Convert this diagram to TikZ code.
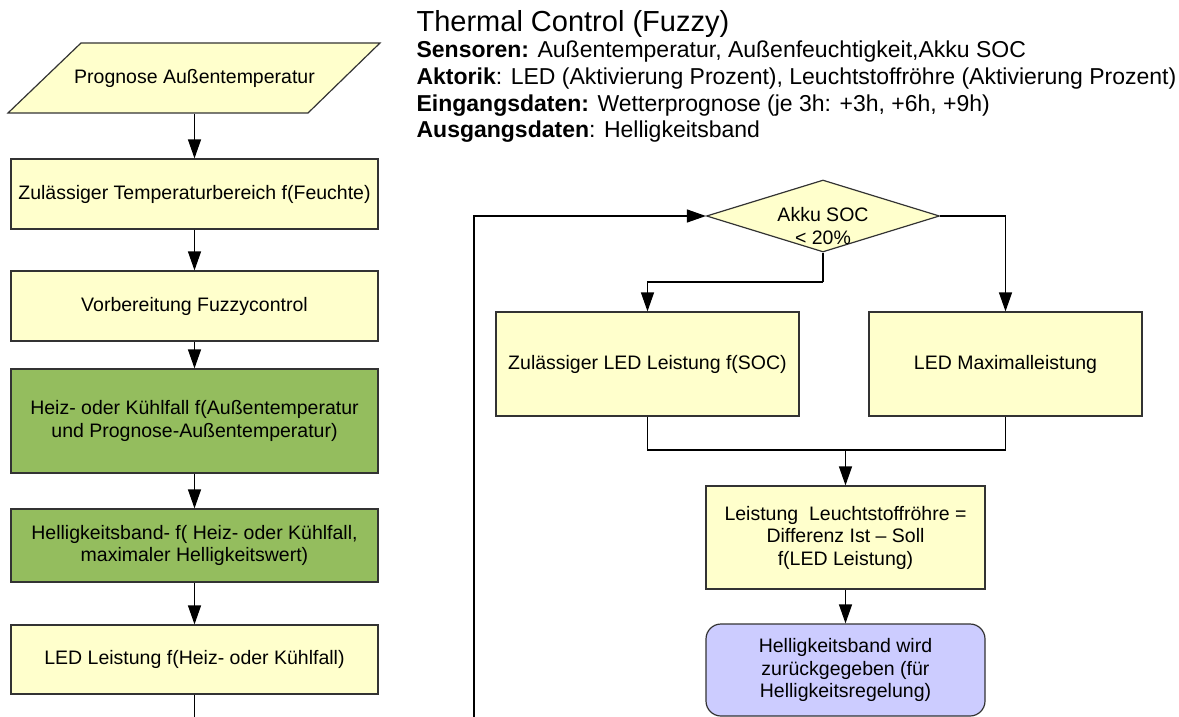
\documentclass[tikz,border=0pt]{standalone}
\usepackage{fontspec}
\setmainfont{Liberation Sans}
\usetikzlibrary{arrows.meta,shapes.geometric}

\definecolor{boxyellow}{HTML}{FFFFCC}
\definecolor{boxgreen}{HTML}{94BD5E}
\definecolor{boxblue}{HTML}{CCCCFF}
\definecolor{edgegray}{HTML}{333333}

\newcommand{\boxfont}{\fontsize{19.5}{22.5}\selectfont}
\newcommand{\hdrfont}{\fontsize{23}{26.5}\selectfont}
\newcommand{\titlefont}{\fontsize{29}{33}\selectfont}

\begin{document}
\begin{tikzpicture}[x=1pt, y=-1pt,
  line width=1.2pt,
  flow/.style={draw=black, -{Triangle[length=19pt,width=13pt]}},
  plain/.style={draw=black},
  procbox/.style={rectangle, draw=edgegray, fill=boxyellow, inner sep=0pt,
    align=center, font=\boxfont},
  greenbox/.style={procbox, fill=boxgreen},
  endbox/.style={procbox, fill=boxblue, rounded corners=15pt},
  decision/.style={diamond, draw=edgegray, fill=boxyellow, inner sep=0pt},
  hdr/.style={anchor=base west, inner sep=0pt, font=\hdrfont}
]
\useasboundingbox (0,0) rectangle (1179,717);
\fill[white] (0,0) rectangle (1179,717);

% ---------- header ----------
\node[anchor=base west, inner sep=0pt, font=\titlefont] (title) at (416,32) {Thermal Control (Fuzzy)};
\node[hdr] (hdrA) at (416,58) {\textbf{Sensoren:} Außentemperatur, Außenfeuchtigkeit,Akku SOC};
\node[hdr] (hdrB) at (416,84.5) {\textbf{Aktorik}: LED (Aktivierung Prozent), Leuchtstoffröhre (Aktivierung Prozent)};
\node[hdr] (hdrC) at (416,111) {\textbf{Eingangsdaten:} Wetterprognose (je 3h: +3h, +6h, +9h)};
\node[hdr] (hdrD) at (416,137.5) {\textbf{Ausgangsdaten}: Helligkeitsband};

% ---------- left column ----------
\draw[draw=edgegray, fill=boxyellow] (81,43) -- (380,43) -- (308,113) -- (8,113) -- cycle;
\node[inner sep=0pt, minimum width=300pt, minimum height=70pt, font=\boxfont] (para) at (194.5,78) {Prognose Außentemperatur};

\node[procbox, minimum width=367pt, minimum height=70pt] (zul) at (194.5,194)
  {Zulässiger Temperaturbereich f(Feuchte)};
\node[procbox, minimum width=367pt, minimum height=70pt] (vorb) at (194.5,306)
  {Vorbereitung Fuzzycontrol};
\node[greenbox, minimum width=367pt, minimum height=104pt] (heiz) at (194.5,421)
  {Heiz- oder Kühlfall f(Außentemperatur\\ und Prognose-Außentemperatur)};
\node[greenbox, minimum width=367pt, minimum height=73pt] (hband) at (194.5,545.5)
  {Helligkeitsband- f( Heiz- oder Kühlfall,\\ maximaler Helligkeitswert)};
\node[procbox, minimum width=367pt, minimum height=69pt] (ledl) at (194.5,659.5)
  {LED Leistung f(Heiz- oder Kühlfall)};
\coordinate (leftend) at (194.5,717);

\draw[flow] (para.south) -- (zul.north);
\draw[flow] (zul) -- (vorb);
\draw[flow] (vorb) -- (heiz);
\draw[flow] (heiz) -- (hband);
\draw[flow] (hband) -- (ledl);
\draw[plain] (ledl.south) -- (leftend);

% ---------- right column ----------
\node[decision, minimum width=233pt, minimum height=72pt] (dec) at (823,216) {};
\node[inner sep=0pt, align=center, font=\boxfont] (declabel) at (823,226) {Akku SOC\\ < 20\%};

\node[procbox, minimum width=303pt, minimum height=104pt] (socbox) at (647.5,364)
  {Zulässiger LED Leistung f(SOC)};
\node[procbox, minimum width=273pt, minimum height=104pt] (maxbox) at (1005.5,364)
  {LED Maximalleistung};
\node[procbox, minimum width=279pt, minimum height=103pt] (leist) at (845.5,537.5)
  {Leistung\ \ Leuchtstoffröhre =\\ Differenz Ist – Soll\\ f(LED Leistung)};
\node[endbox, minimum width=279pt, minimum height=92pt] (ret) at (845.5,670)
  {Helligkeitsband wird\\ zurückgegeben (für\\ Helligkeitsregelung)};

\coordinate (loopstart) at (474,717);
\coordinate (split) at (823,282);
\coordinate (merge) at (845.5,450);

\draw[flow] (loopstart) |- (dec.west);
\draw[plain] (dec.south) -- (split);
\draw[flow] (split) -| (socbox.north);
\draw[flow] (dec.east) -| (maxbox.north);
\draw[plain] (socbox.south) |- (merge) -| (maxbox.south);
\draw[flow] (merge) -- (leist.north);
\draw[flow] (leist) -- (ret);
\end{tikzpicture}
\end{document}
